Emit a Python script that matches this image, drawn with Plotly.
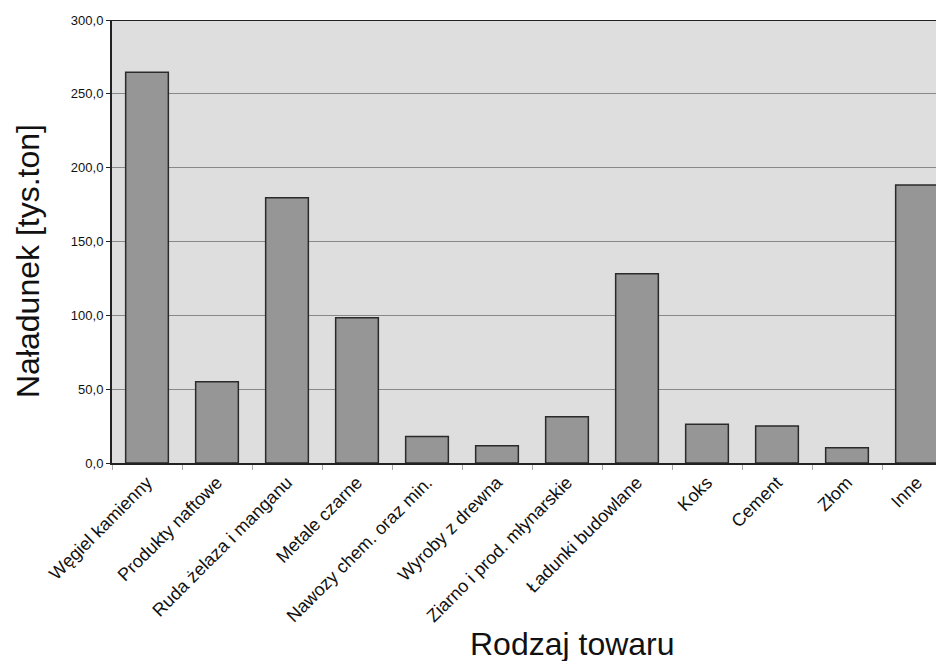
import plotly.graph_objects as go

categories = ["Węgiel kamienny", "Produkty naftowe", "Ruda żelaza i manganu", "Metale czarne",
              "Nawozy chem. oraz min.", "Wyroby z drewna", "Ziarno i prod. młynarskie",
              "Ładunki budowlane", "Koks", "Cement", "Złom", "Inne"]
values = [264.6, 55.0, 179.6, 98.4, 17.9, 11.6, 31.4, 128.2, 26.2, 25.1, 10.4, 188.3]
y_ticks = [0, 50, 100, 150, 200, 250, 300]

# page body has an 8px default margin, so the figure starts at (8, 8);
# the plot area runs past the right edge of the window as in the original
fig = go.Figure()
fig.add_trace(go.Bar(
    x=categories, y=values,
    marker=dict(color="#969696", line=dict(color="#2a2a2a", width=1.5)),
    width=0.61,
))

fig.update_layout(
    width=944, height=653,
    margin=dict(l=104, r=0, t=12, b=198),
    paper_bgcolor="white", plot_bgcolor="#dedede",
    separators=",.",
    showlegend=False,
    font=dict(family="Liberation Sans, Arial, sans-serif", color="#111"),
)
fig.update_xaxes(
    type="category", range=[-0.5, 11.5],
    tickangle=-45, tickfont=dict(size=18, color="#111"),
    ticks="outside", tickson="boundaries", ticklen=5, tickcolor="#aaaaaa",
    showline=True, linecolor="#222", linewidth=2,
    showgrid=False,
)
fig.update_yaxes(
    range=[0, 300], tickvals=y_ticks, tickformat=".1f",
    tickfont=dict(size=13, color="#111"),
    ticks="outside", ticklen=4, tickcolor="#222",
    showline=True, linecolor="#222", linewidth=2,
    showgrid=True, gridcolor="#888888", gridwidth=1,
    zeroline=False,
)
fig.add_shape(type="line", xref="paper", yref="y", x0=0, x1=1, y0=300, y1=300,
              line=dict(color="#222", width=2))
fig.add_annotation(text="Naładunek [tys.ton]", xref="paper", yref="paper",
                   x=0, y=(463-261)/443, xanchor="center", yanchor="middle",
                   textangle=-90, showarrow=False, xshift=28-112,
                   font=dict(size=32, color="#111"))
fig.add_annotation(text="Rodzaj towaru", xref="paper", yref="paper",
                   x=0, xshift=572-112, y=0, yshift=-(644-463),
                   xanchor="center", yanchor="middle", showarrow=False,
                   font=dict(size=32, color="#111"))

fig.write_html("out.html")
